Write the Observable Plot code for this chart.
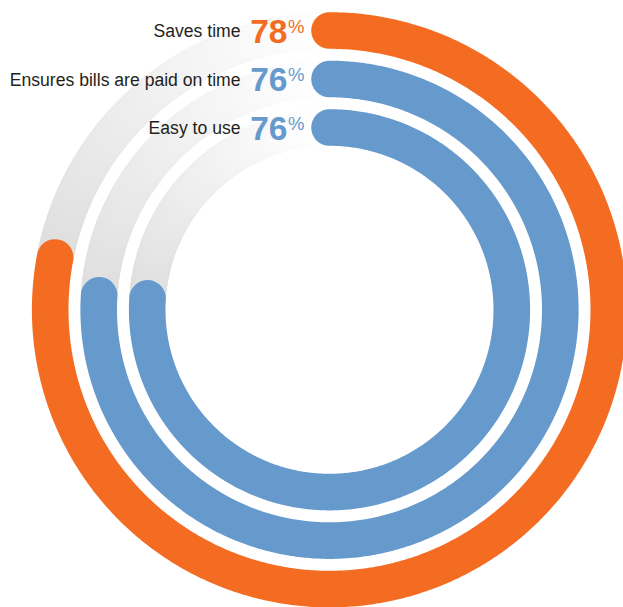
<!DOCTYPE html>
<html><head><meta charset="utf-8">
<script src="https://cdn.jsdelivr.net/npm/d3@7"></script>
<script src="https://cdn.jsdelivr.net/npm/@observablehq/plot@0.6"></script>
<style>html,body{margin:0;padding:0;background:#fff} svg{display:block}</style>
</head><body><div id="chart"></div>
<script>
// ---- data ----
const categories = ["Saves time", "Ensures bills are paid on time", "Easy to use"];
const values = [78, 76, 76];
const valueLabels = ["78", "76", "76"];
const unitLabel = "%";

// ---- style ----
const palette = {"Saves time": "#f36c21", "Ensures bills are paid on time": "#6699cc", "Easy to use": "#6699cc"};
const W = 623, H = 607, CX = 329, CY = 309.3;
const ringWidth = 36.6;
const radius = d3.scalePoint().domain(categories).range([279.3, 182.3]);

// arc geometry (in pixel-like data units, centered at 0,0)
const pt = (r, deg) => ({x: r * Math.sin(deg * Math.PI / 180), y: r * Math.cos(deg * Math.PI / 180)});

const rows = categories.map((c, i) => ({cat: c, value: values[i], label: valueLabels[i], r: radius(c), color: palette[c]}));

const arcPts = rows.flatMap(d => {
  const end = d.value / 100 * 360;
  const n = Math.ceil(end / 0.5);
  return d3.range(n + 1).map(k => ({cat: d.cat, color: d.color, ...pt(d.r, end * k / n)}));
});

const fade = d3.interpolateRgb("#dcdcdc", "#ffffff");
const trackSegs = rows.flatMap(d => {
  const start = d.value / 100 * 360;
  const n = Math.ceil((360 - start) / 1);
  return d3.range(n).map(k => {
    const a0 = start + (360 - start) * k / n, a1 = start + (360 - start) * (k + 1) / n;
    const p0 = pt(d.r, a0), p1 = pt(d.r, a1);
    return {x1: p0.x, y1: p0.y, x2: p1.x, y2: p1.y, color: fade(Math.pow(k / n, 0.9))};
  });
});

const chart = Plot.plot({
  width: W, height: H,
  margin: 0,
  x: {domain: [-CX, W - CX], axis: null},
  y: {domain: [-(H - CY), CY], axis: null},
  color: {type: "identity"},
  marks: [
    Plot.link(trackSegs, {x1: "x1", y1: "y1", x2: "x2", y2: "y2", stroke: "color", strokeWidth: ringWidth, strokeLinecap: "round"}),
    Plot.line(arcPts, {x: "x", y: "y", z: "cat", stroke: "color", strokeWidth: ringWidth, strokeLinecap: "round", curve: "linear"}),
    Plot.text(rows, {x: () => 0, y: "r", text: "cat", textAnchor: "end", lineAnchor: "bottom", dx: -89, dy: 6.5,
      fontSize: 17.6, fill: "#231f20", fontFamily: "Liberation Sans, Arial, sans-serif"}),
    Plot.text(rows, {x: () => 0, y: "r", text: "label", textAnchor: "end", lineAnchor: "bottom", dx: -42, dy: 12,
      fontSize: 33.5, fontWeight: "bold", fill: "color", fontFamily: "Liberation Sans, Arial, sans-serif"}),
    Plot.text(rows, {x: () => 0, y: "r", text: () => unitLabel, textAnchor: "start", lineAnchor: "bottom", dx: -41.5, dy: 2,
      fontSize: 18.5, fill: "color", fontFamily: "Liberation Sans, Arial, sans-serif"})
  ]
});
document.getElementById("chart").append(chart);
</script>
</body></html>
